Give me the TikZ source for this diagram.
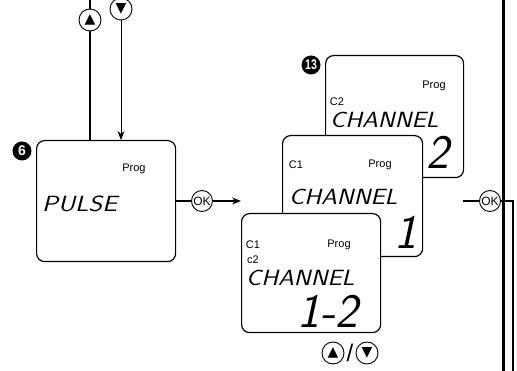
\documentclass[tikz,border=0pt]{standalone}
\usepackage{fontspec}
\setmainfont{Liberation Sans}
\newfontfamily\symfont{DejaVu Sans}
\usetikzlibrary{arrows.meta}

\begin{document}
\begin{tikzpicture}[x=1pt,y=-1pt,>={Stealth[length=9pt,width=7pt]},
  lcd/.style={draw,line width=1.2pt,rounded corners=8pt,fill=white,anchor=north west,inner sep=0pt},
  badge/.style={circle,fill=black,text=white,inner sep=0pt,minimum size=19pt,font=\bfseries\fontsize{14}{14}\selectfont},
  btn/.style={circle,draw,line width=0.9pt,fill=white,inner sep=0pt,minimum size=22pt,font=\symfont\fontsize{14}{14}\selectfont},
  okbtn/.style={circle,draw,line width=0.9pt,fill=white,inner sep=0pt,minimum size=21pt,font=\fontsize{12}{12}\selectfont},
  tag/.style={font=\fontsize{11}{11}\selectfont,inner sep=0pt},
  seg/.style={font=\sffamily\slshape\fontsize{22}{22}\selectfont,inner sep=0pt,anchor=west},
  bigseg/.style={font=\sffamily\slshape\fontsize{48}{48}\selectfont,inner sep=0pt}]
  \useasboundingbox (0,0) rectangle (517,371);

  % buttons on top
  \coordinate (top up) at (90,0);
  \node[btn] (up) at (90,20) {▲};
  \node[btn] (down) at (121,9) {▼};
  \draw[line width=1.2pt] (top up) -- (up);

  % PULSE display
  \node[lcd,minimum width=139pt,minimum height=121pt] (pulse) at (36,140) {};
  \node[badge] (n6) at (22,151) {6};
  \node[tag] (prog6) at (134,169) {Prog};
  \node[seg] (pulsetxt) at (42,204) {\scalebox{1.2}[1]{PULSE}};
  \draw[line width=1.8pt] (up) -- (up |- pulse.north);
  \draw[->,line width=0.9pt] (down) -- (down |- pulse.north);

  % OK into channel menu
  \node[okbtn] (ok1) at (202,201) {OK};
  \coordinate (menu in) at (241,201);
  \draw[line width=1.8pt] (pulse.east |- ok1) -- (ok1);
  \draw[->,line width=1.2pt] (ok1) -- (menu in);

  % channel 2
  \node[lcd,minimum width=138pt,minimum height=122pt] (ch2) at (325,55) {};
  \node[badge] (n13) at (311,65) {\scalebox{0.75}[1]{13}};
  \node[tag] (prog2) at (434,86) {Prog};
  \node[tag] (c2b) at (337,102) {C2};
  \node[seg] (chan2) at (330,120) {\scalebox{1.15}[1]{CHANNEL}};
  \node[bigseg] (dig2) at (438,152) {2};

  % channel 1
  \node[lcd,minimum width=140pt,minimum height=121pt] (ch1) at (282,135) {};
  \node[tag] (c1a) at (296,165) {C1};
  \node[tag] (prog1) at (380,165) {Prog};
  \node[seg] (chan1) at (289,197) {\scalebox{1.15}[1]{CHANNEL}};
  \node[bigseg] (dig1) at (406,232) {1};

  % channel 1-2
  \node[lcd,minimum width=139pt,minimum height=119pt] (ch12) at (241,213) {};
  \node[tag] (c1b) at (253,245) {C1};
  \node[tag] (c2a) at (253,260) {c2};
  \node[tag] (prog12) at (339,245) {Prog};
  \node[seg] (chan12) at (246,278) {\scalebox{1.15}[1]{CHANNEL}};
  \node[bigseg] (dig12) at (328,311) {1-2};

  % up/down below
  \node[btn] (up2) at (333,353) {▲};
  \node[font=\fontsize{24}{24}\selectfont,inner sep=0pt] (slash) at (350,353) {/};
  \node[btn] (down2) at (367,353) {▼};

  % OK on the right
  \coordinate (rail top) at (503,0);
  \coordinate (rail bot) at (503,371);
  \draw[line width=3pt] (rail top) -- (rail bot);
  \coordinate (ok in) at (463,201);
  \node[okbtn] (ok2) at (490,201) {OK};
  \coordinate (turn) at (513,201);
  \coordinate (out bot) at (513,371);
  \draw[line width=1.5pt] (ok in) -- (ok2);
  \draw[line width=1.5pt] (ok2) -- (turn) -- (out bot);
\end{tikzpicture}
\end{document}
